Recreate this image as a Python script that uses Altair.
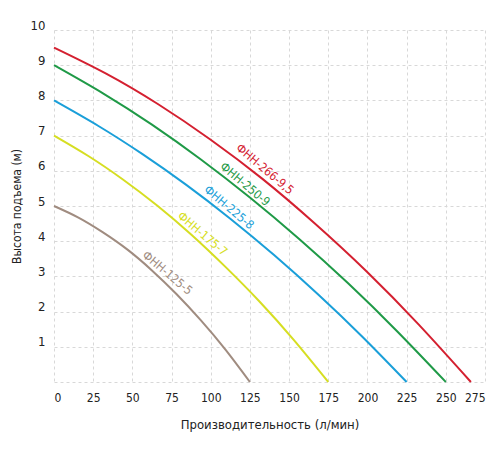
import altair as alt
import pandas as pd

series_names = ["ФНН-266-9,5", "ФНН-250-9", "ФНН-225-8", "ФНН-175-7", "ФНН-125-5"]
series_colors = ["#d42030", "#1f9a47", "#1a9fd9", "#d6de22", "#a08c80"]

q_red = [0, 33.25, 66.5, 99.75, 133, 166.25, 199.5, 232.75, 266]
h_red = [9.5, 8.76, 7.89, 6.89, 5.77, 4.51, 3.14, 1.63, 0]
q_green = [0, 31.25, 62.5, 93.75, 125, 156.25, 187.5, 218.75, 250]
h_green = [9.0, 8.20, 7.31, 6.32, 5.24, 4.07, 2.81, 1.45, 0]
q_blue = [0, 28.1, 56.25, 84.4, 112.5, 140.6, 168.75, 196.9, 225]
h_blue = [8.0, 7.28, 6.48, 5.60, 4.64, 3.60, 2.48, 1.28, 0]
q_yellow = [0, 21.9, 43.75, 65.6, 87.5, 109.4, 131.25, 153.1, 175]
h_yellow = [7.0, 6.42, 5.76, 5.02, 4.19, 3.27, 2.28, 1.19, 0]
q_brown = [0, 15.6, 31.25, 46.9, 62.5, 78.1, 93.75, 109.4, 125]
h_brown = [5.0, 4.67, 4.25, 3.76, 3.17, 2.50, 1.75, 0.92, 0]

label_q = [134.6, 121.9, 111.7, 94.8, 72.4]
label_h = [6.05, 5.62, 4.96, 4.21, 3.10]

x_ticks = [0, 25, 50, 75, 100, 125, 150, 175, 200, 225, 250, 275]
y_ticks = [0, 1, 2, 3, 4, 5, 6, 7, 8, 9, 10]

qs = [q_red, q_green, q_blue, q_yellow, q_brown]
hs = [h_red, h_green, h_blue, h_yellow, h_brown]
rows = []
for name, ql, hl in zip(series_names, qs, hs):
    for q, h in zip(ql, hl):
        rows.append({"series": name, "q": q, "h": h})
df = pd.DataFrame(rows)
labels = pd.DataFrame({"series": series_names, "q": label_q, "h": label_h})

FONT = "DejaVu Sans Condensed, Roboto, sans-serif"

xs = alt.Scale(domain=[0, 275], nice=False)
ys = alt.Scale(domain=[0, 10], nice=False)
cs = alt.Scale(domain=series_names, range=series_colors)

x_axis = alt.Axis(values=x_ticks, labelPadding=10, titlePadding=15, labelFontSize=12,
                  titleFontSize=13)
y_axis = alt.Axis(values=y_ticks, labelPadding=9, titlePadding=7, labelOffset=-5,
                  labelFontSize=13, titleFontSize=12,
                  labelExpr="datum.value == 0 ? '' : datum.label")
x_title = "Производительность (л/мин)"
y_title = "Высота подъема (м)"

lines = alt.Chart(df).mark_line(interpolate="natural", strokeWidth=2).encode(
    x=alt.X("q:Q", scale=xs, title=x_title, axis=x_axis),
    y=alt.Y("h:Q", scale=ys, title=y_title, axis=y_axis),
    color=alt.Color("series:N", scale=cs, legend=None),
    detail="series:N",
)

texts = alt.Chart(labels).mark_text(angle=40, fontSize=12, font=FONT).encode(
    x=alt.X("q:Q", scale=xs, title=x_title, axis=x_axis),
    y=alt.Y("h:Q", scale=ys, title=y_title, axis=y_axis),
    text="series:N",
    color=alt.Color("series:N", scale=cs, legend=None),
)

chart = (lines + texts).properties(
    width=431, height=352,
    autosize=alt.AutoSizeParams(type="none"),
    padding={"left": 46, "top": 22, "right": 6, "bottom": 60},
).configure_view(stroke=None).configure_axis(
    grid=True, gridDash=[3, 3], gridColor="#d8d8d8", domain=False, ticks=False,
    labelOverlap=False, labelFont=FONT, titleFont=FONT,
    titleFontWeight="normal", labelColor="#222", titleColor="#222",
)

chart.save("out.html", embed_options={"renderer": "svg", "actions": False})
